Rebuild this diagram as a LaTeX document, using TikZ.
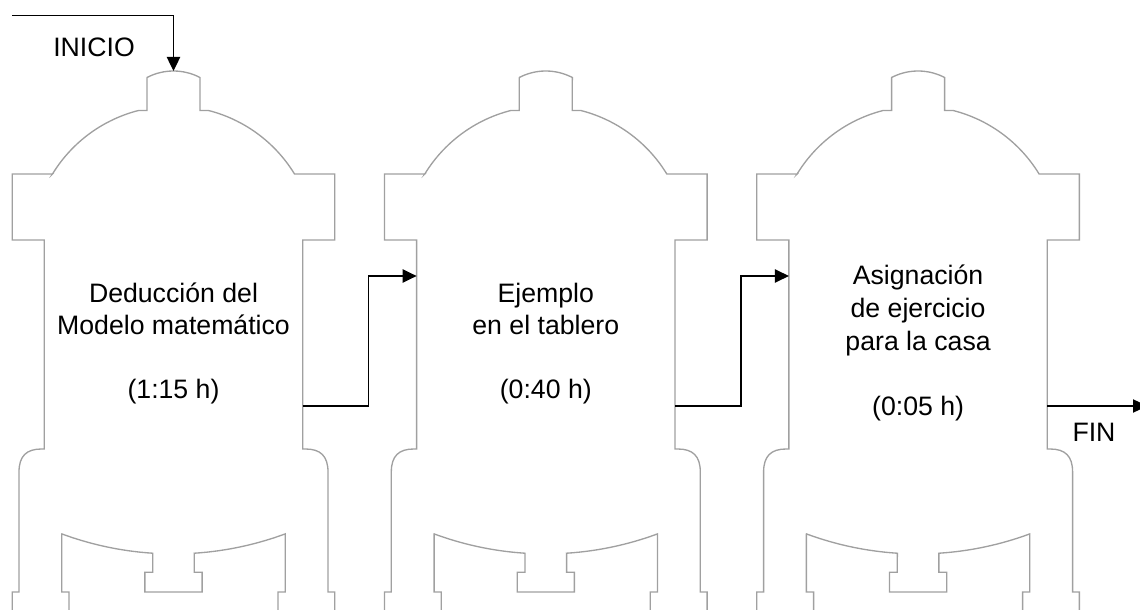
\documentclass[tikz,border=0pt]{standalone}
\usepackage{fontspec}
\setmainfont{Liberation Sans}
\usetikzlibrary{arrows.meta}
\definecolor{shell}{RGB}{160,160,160}
\tikzset{
  outline/.style={draw=shell, line width=1pt, line join=miter},
  flow/.style={draw=black, line width=0.95pt, -{Triangle[length=10.5pt,width=10pt]}},
  txt/.style={font=\fontsize{20}{24}\selectfont, inner sep=0pt, anchor=base, align=center},
  % one process vessel, drawn about its vertical axis (units: px, y downwards)
  vessel/.pic={
    % outer shell with nozzle, dome and skirt
    \draw[outline] (-161.3,615) -- (-161.3,592) -- (-154.5,592) -- (-154.5,472)
      .. controls (-154.5,456) and (-147,449) .. (-132,449) -- (-129.2,449) -- (-129.2,240)
      -- (-161.3,240) -- (-161.3,174) -- (-121,174)
      -- plot[domain=148.6:104.3,samples=30] ({141.8*cos(\x)},{247.9-141.8*sin(\x)})
      -- (-26.5,110.5) -- (-26.5,77.5)
      -- plot[domain=117.6:62.4,samples=20] ({57.27*cos(\x)},{128.27-57.27*sin(\x)})
      -- (26.5,110.5) -- (35,110.5)
      -- plot[domain=75.7:31.4,samples=30] ({141.8*cos(\x)},{247.9-141.8*sin(\x)})
      -- (161.3,174) -- (161.3,240) -- (129.2,240) -- (129.2,449) -- (132,449)
      .. controls (147,449) and (154.5,456) .. (154.5,472) -- (154.5,592)
      -- (161.3,592) -- (161.3,615);
    % inner support with curved bottom and drain stub
    \draw[outline] (-104.5,615) -- (-104.5,592) -- (-111.7,592) -- (-111.7,534)
      -- plot[domain=110.3:93.7,samples=30] ({321.9*cos(\x)},{232+321.9*sin(\x)})
      -- (-20.8,572.3) -- (-28.6,572.3) -- (-28.6,592) -- (28.6,592) -- (28.6,572.3)
      -- (20.8,572.3) -- (20.8,553.3)
      -- plot[domain=86.3:69.7,samples=30] ({321.9*cos(\x)},{232+321.9*sin(\x)})
      -- (111.7,592) -- (104.5,592) -- (104.5,615);
    \coordinate (-top) at (0,71);
    \coordinate (-in) at (-129.2,276);
    \coordinate (-out) at (129.2,406);
  }
}
\begin{document}
\begin{tikzpicture}[x=0.75pt,y=-0.75pt]
\useasboundingbox (0,0) rectangle (1140,610);

\pic (v1) at (173.5,0) {vessel};
\pic (v2) at (545.8,0) {vessel};
\pic (v3) at (918.1,0) {vessel};

% multi-line labels sit on the baseline of their last line
\node[txt] (t1) at (173.5,398) {Deducción del\\Modelo matemático\\[24pt](1:15 h)};
\node[txt] (t2) at (545.8,398) {Ejemplo\\en el tablero\\[24pt](0:40 h)};
\node[txt, font=\fontsize{20}{24.75}\selectfont] (t3) at (918.1,415)
  {Asignación\\de ejercicio\\para la casa\\[24pt](0:05 h)};

\node[txt] (inicio) at (94,56.7) {INICIO};
\node[txt] (fin) at (1094,441.7) {FIN};

\coordinate (start) at (12,15.5);
\coordinate (finish) at (1147,406);

\draw[flow] (start) -| (v1-top);
\draw[flow] (v1-out) -- ++(66,0) |- (v2-in);
\draw[flow] (v2-out) -- ++(66,0) |- (v3-in);
\draw[flow] (v3-out) -- (finish);
\end{tikzpicture}
\end{document}
